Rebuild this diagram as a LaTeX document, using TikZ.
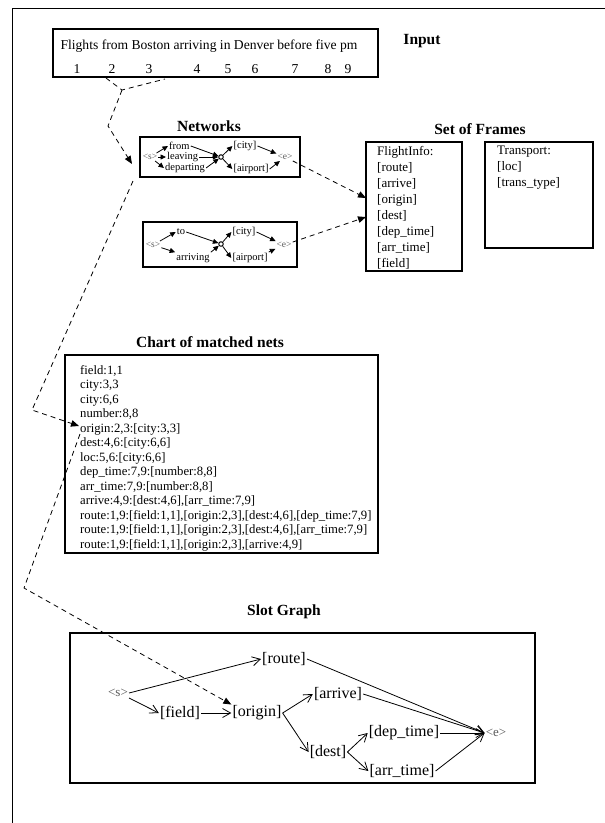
\documentclass[tikz,border=0pt]{standalone}
\usepackage{fontspec}
\setmainfont{Liberation Serif}
\usetikzlibrary{arrows.meta}
\tikzset{
  box/.style={draw,line width=1.2pt,inner sep=0pt},
  ttl/.style={font=\fontsize{15.5}{17}\selectfont\bfseries},
  intext/.style={font=\fontsize{13.6}{15}\selectfont,inner sep=0pt},
  netw/.style={font=\fontsize{10.5}{11}\selectfont,inner sep=1pt},
  ends/.style={font=\fontsize{9.5}{10}\selectfont,text=black!65,inner sep=1pt},
  narr/.style={line width=0.8pt,-{Triangle[length=5.5pt,width=5pt]}},
  lnk/.style={line width=0.8pt,dash pattern=on 5pt off 4pt,-{Triangle[length=8pt,width=6.5pt]}},
  lnkplain/.style={line width=0.8pt,dash pattern=on 5pt off 4pt},
  frm/.style={font=\fontsize{13}{16}\selectfont,align=left,anchor=north west,inner sep=0pt},
  chart/.style={font=\fontsize{12.7}{14.5}\selectfont,align=left,anchor=north west,inner sep=0pt},
  slot/.style={font=\fontsize{16}{18}\selectfont,inner sep=1pt},
  sends/.style={font=\fontsize{13}{14}\selectfont,text=black!65,inner sep=1pt},
  sarr/.style={line width=0.8pt,-{Straight Barb[length=8pt,width=9pt]}}
}
\begin{document}
\begin{tikzpicture}[x=1pt,y=-1pt]
\useasboundingbox (0,0) rectangle (605,823);
\draw[line width=0.8pt] (12,823) -- (12,8) -- (605,8);

\node[box,minimum width=325pt,minimum height=48pt] (inp) at (215.5,53) {};
\node[intext] (sent) at (209,46) {Flights from Boston arriving in Denver before five pm};
\node[intext] (w1) at (77,69) {1};
\node[intext] (w2) at (112,69) {2};
\node[intext] (w3) at (149,69) {3};
\node[intext] (w4) at (197,69) {4};
\node[intext] (w5) at (228,69) {5};
\node[intext] (w6) at (255,69) {6};
\node[intext] (w7) at (295,69) {7};
\node[intext] (w8) at (328,69) {8};
\node[intext] (w9) at (348,69) {9};
\node[ttl] (tinput) at (422,41) {Input};

\coordinate (a1) at (106,78);
\coordinate (a2) at (165,79);
\coordinate (j1) at (122,90);
\coordinate (c1) at (108,126);
\coordinate (t1) at (132,164);
\draw[lnkplain] (a1) -- (j1) -- (a2);
\draw[lnk] (j1) -- (c1) -- (t1);

% networks
\node[ttl] (tnet) at (209,126) {Networks};
\node[box,minimum width=160pt,minimum height=40pt] (net1) at (220,157) {};
\node[ends] (s1) at (150,157) {<s>};
\node[netw,anchor=west] (from) at (168,146) {from};
\node[netw,anchor=west] (leav) at (166,157) {leaving};
\node[netw,anchor=west] (dep) at (164,168) {departing};
\node[draw,circle,line width=1pt,inner sep=0pt,minimum size=4.5pt] (o1) at (221,157) {};
\node[netw] (city1) at (245,146) {[city]};
\node[netw] (airp1) at (251,169) {[airport]};
\node[ends] (e1) at (285,157) {<e>};
\draw[narr] (s1) -- (from.west);
\draw[narr] (s1) -- (leav.west);
\draw[narr] (s1) -- (dep.west);
\draw[narr] (from.east) -- (o1);
\draw[narr] (leav.east) -- (o1);
\draw[narr] (dep.east) -- (o1);
\draw[narr] (o1) -- (city1.west);
\draw[narr] (o1) -- (airp1.west);
\draw[narr] (city1.east) -- (e1);
\draw[narr] (airp1.east) -- (e1);

\node[box,minimum width=154pt,minimum height=45pt] (net2) at (220,244.5) {};
\node[ends] (s2) at (153,245) {<s>};
\node[netw] (to) at (181,232) {to};
\node[netw] (arri) at (193,258) {arriving};
\node[draw,circle,line width=1pt,inner sep=0pt,minimum size=4.5pt] (o2) at (221,244) {};
\node[netw] (city2) at (244,232) {[city]};
\node[netw] (airp2) at (250,258) {[airport]};
\node[ends] (e2) at (284,245) {<e>};
\draw[narr] (s2) -- (to.west);
\draw[narr] (s2) -- (arri.north west);
\draw[narr] (to.east) -- (o2);
\draw[narr] (arri.north east) -- (o2);
\draw[narr] (o2) -- (city2.west);
\draw[narr] (o2) -- (airp2.west);
\draw[narr] (city2.east) -- (e2);
\draw[narr] (airp2.north east) -- (e2);

% frames
\node[ttl] (tfrm) at (480,129) {Set of Frames};
\node[box,minimum width=96pt,minimum height=129pt] (fi) at (414,206.5) {};
\node[frm] (fitxt) at (377,146) {FlightInfo:\\{}[route]\\{}[arrive]\\{}[origin]\\{}[dest]\\{}[dep\_time]\\{}[arr\_time]\\{}[field]};
\node[box,minimum width=108pt,minimum height=106pt] (tr) at (539,195) {};
\node[frm] (trtxt) at (497,146) {Transport:\\{}[loc]\\{}[trans\_type]};
\coordinate (f1) at (366,198);
\coordinate (f2) at (366,217);
\draw[lnk] (e1) -- (f1);
\draw[lnk] (e2) -- (f2);

% chart
\node[ttl] (tchart) at (210,342) {Chart of matched nets};
\node[box,minimum width=313pt,minimum height=198pt] (cbox) at (221.5,454) {};
\node[chart] (ctxt) at (80,365) {field:1,1\\city:3,3\\city:6,6\\number:8,8\\origin:2,3:[city:3,3]\\dest:4,6:[city:6,6]\\loc:5,6:[city:6,6]\\dep\_time:7,9:[number:8,8]\\arr\_time:7,9:[number:8,8]\\arrive:4,9:[dest:4,6],[arr\_time:7,9]\\route:1,9:[field:1,1],[origin:2,3],[dest:4,6],[dep\_time:7,9]\\route:1,9:[field:1,1],[origin:2,3],[dest:4,6],[arr\_time:7,9]\\route:1,9:[field:1,1],[origin:2,3],[arrive:4,9]};
\coordinate (b0) at (133,181);
\coordinate (c2) at (32,410);
\coordinate (t2) at (79,426);
\coordinate (b1) at (80,434);
\coordinate (c3) at (24,588);
\draw[lnk] (b0) -- (c2) -- (t2);

% slot graph
\node[ttl] (tslot) at (284,612) {Slot Graph};
\node[box,minimum width=465pt,minimum height=150pt] (sbox) at (302.5,708) {};
\node[sends] (s3) at (118,693) {<s>};
\node[slot] (route) at (284,659) {[route]};
\node[slot] (field) at (180,713) {[field]};
\node[slot] (orig) at (257,713) {[origin]};
\node[slot] (arrv) at (338,694) {[arrive]};
\node[slot] (dest) at (328,752) {[dest]};
\node[slot] (dept) at (404,733) {[dep\_time]};
\node[slot] (arrt) at (402,771) {[arr\_time]};
\node[sends] (e3) at (496,733) {<e>};
\draw[lnk] (b1) -- (c3) -- (orig.north west);
\draw[sarr] (s3.east) -- (route.west);
\draw[sarr] (s3.south east) -- (field.west);
\draw[sarr] (field) -- (orig);
\draw[sarr] (orig.east) -- (arrv.west);
\draw[sarr] (orig.east) -- (dest.west);
\draw[sarr] (dest.east) -- (dept.west);
\draw[sarr] (dest.east) -- (arrt.west);
\draw[sarr] (route.east) -- (e3.west);
\draw[sarr] (arrv.east) -- (e3.west);
\draw[sarr] (dept.east) -- (e3.west);
\draw[sarr] (arrt.east) -- (e3.west);
\end{tikzpicture}
\end{document}
